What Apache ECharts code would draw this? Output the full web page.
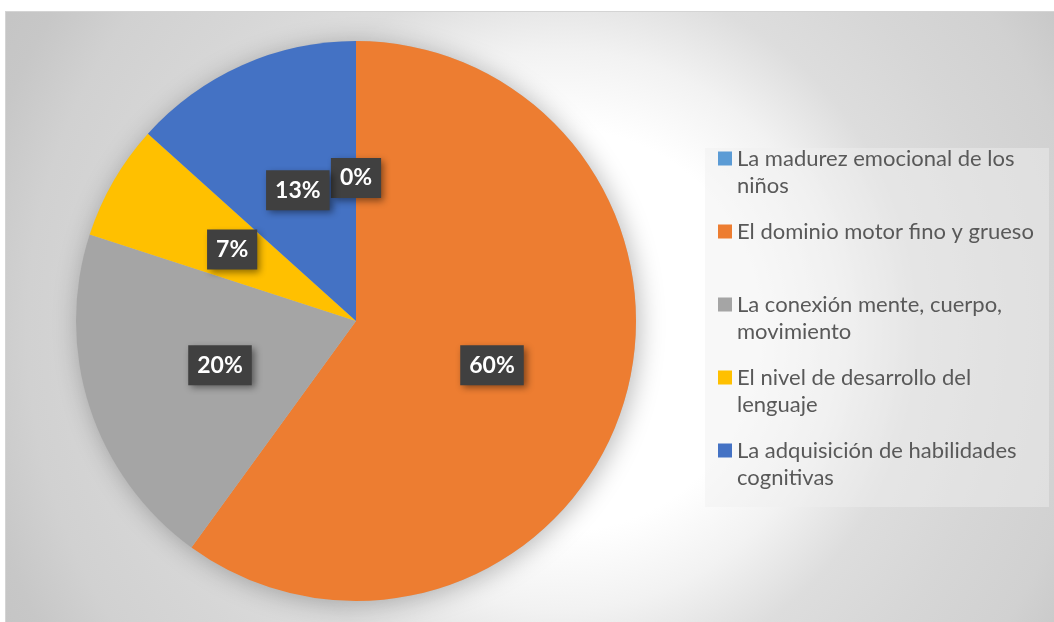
<!DOCTYPE html>
<html>
<head>
<meta charset="utf-8">
<script src="https://cdn.jsdelivr.net/npm/echarts@6/dist/echarts.min.js"></script>
<style>
  html, body { margin: 0; padding: 0; background: #fff; }
  #chart {
    position: absolute; left: 5px; top: 11px;
    width: 1048px; height: 610px;
    border-top: 1px solid #d4d4d4; border-left: 1px solid #d4d4d4;
  }
</style>
</head>
<body>
<div id="chart"></div>
<script>
// categories, in the order the slices go round clockwise from 12 o'clock
const categories = [
  'La madurez emocional de los niños',
  'El dominio motor fino y grueso',
  'La conexión mente, cuerpo, movimiento',
  'El nivel de desarrollo del lenguaje',
  'La adquisición de habilidades cognitivas'
]
// answers per category (15 in total)
const counts = [0, 9, 3, 1, 2]
// legend text as it wraps in the picture
const legendLines = [
  ['La madurez emocional de los', 'niños'],
  ['El dominio motor fino y grueso', ' '],
  ['La conexión mente, cuerpo,', 'movimiento'],
  ['El nivel de desarrollo del', 'lenguaje'],
  ['La adquisición de habilidades', 'cognitivas']
]
const colors = ['#5B9BD5', '#ED7D31', '#A5A5A5', '#FFC000', '#4472C4']

const total = counts.reduce((a, b) => a + b, 0)
const center = [350, 309]
const radius = 280

var myChart = echarts.init(document.getElementById('chart'), null, { renderer: 'canvas' })

myChart.setOption({
  animation: false,
  backgroundColor: {
    type: 'radial', x: 554, y: 318, r: 650, global: true,
    colorStops: [
      { offset: 0, color: '#ffffff' },
      { offset: 0.31, color: '#ffffff' },
      { offset: 0.43, color: '#f2f2f2' },
      { offset: 0.55, color: '#dddddd' },
      { offset: 0.69, color: '#d6d6d6' },
      { offset: 0.82, color: '#d1d1d1' },
      { offset: 0.92, color: '#c7c7c7' },
      { offset: 1, color: '#c4c4c4' }
    ]
  },
  textStyle: { fontFamily: 'Lato, "DejaVu Sans", sans-serif' },
  graphic: [
    {
      // legend panel
      type: 'rect', z: -1, silent: true,
      shape: { x: 699, y: 136, width: 344, height: 359 },
      style: { fill: 'rgba(240,240,240,0.45)' }
    }
  ],
  legend: {
    orient: 'vertical',
    left: 712,
    top: 106,
    padding: 0,
    itemGap: -8,
    itemWidth: 14,
    itemHeight: 14,
    icon: 'rect',
    selectedMode: false,
    data: categories,
    formatter: name => {
      const l = legendLines[categories.indexOf(name)]
      return ' \n' + l[0] + '\n' + l[1]
    },
    textStyle: {
      color: '#595959',
      fontSize: 22,
      lineHeight: 27,
      fontFamily: 'Lato'
    }
  },
  series: [
    {
      // soft shadow under the whole pie
      type: 'pie',
      silent: true,
      center: center,
      radius: radius,
      label: { show: false },
      labelLine: { show: false },
      data: [{ value: total, name: 'total' }],
      itemStyle: {
        color: '#bdbdbd',
        shadowBlur: 26,
        shadowColor: 'rgba(0,0,0,0.28)',
        shadowOffsetX: 3,
        shadowOffsetY: 3
      }
    },
    {
      type: 'pie',
      center: center,
      radius: radius,
      startAngle: 90,
      clockwise: true,
      avoidLabelOverlap: false,
      silent: true,
      data: categories.map((c, i) => ({
        name: c,
        value: counts[i],
        itemStyle: { color: colors[i] }
      })),
      itemStyle: { borderWidth: 0 },
      label: {
        show: true,
        position: 'inside',
        formatter: p => Math.round(p.percent) + '%',
        color: '#ffffff',
        fontFamily: 'Lato',
        fontWeight: 'bold',
        fontSize: 23,
        lineHeight: 24,
        backgroundColor: '#404040',
        padding: [8, 9],
        shadowColor: 'rgba(0,0,0,0.45)',
        shadowBlur: 7,
        shadowOffsetX: 3,
        shadowOffsetY: 3
      },
      labelLine: { show: false }
    }
  ]
})
</script>
</body>
</html>
